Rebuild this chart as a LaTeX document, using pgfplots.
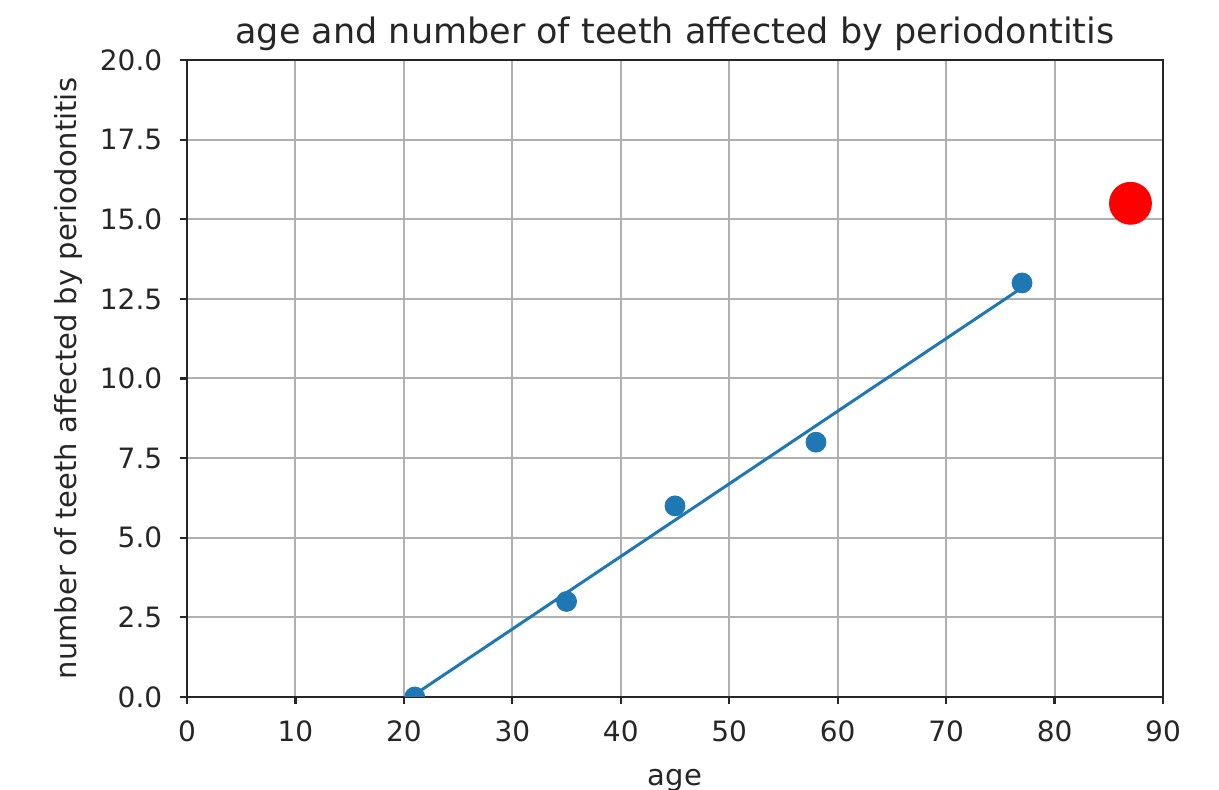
\documentclass[border=0pt]{standalone}
\usepackage{pgfplots}
\pgfplotsset{compat=1.18}
\usepackage{fontspec}
\setmainfont{DejaVu Sans}
\definecolor{mplblue}{HTML}{1F77B4}
\begin{document}
\fontsize{14pt}{17pt}\selectfont
\begin{tikzpicture}
\begin{axis}[
  scale only axis,
  width=488pt, height=318.5pt,
  xmin=0, xmax=90, ymin=0, ymax=20,
  xtick={0,10,...,90},
  ytick={0,2.5,...,20},
  /pgf/number format/assume math mode=true,
  tick label style={font=\fontsize{14pt}{17pt}\selectfont, text=black!85},
  yticklabel style={xshift=-4pt, /pgf/number format/.cd,fixed,fixed zerofill,precision=1},
  xticklabel style={yshift=-3.5pt, /pgf/number format/.cd,fixed,precision=0},
  label style={font=\fontsize{14.5pt}{17pt}\selectfont, text=black!85},
  title style={font=\fontsize{17.5pt}{21pt}\selectfont, text=black!85, yshift=-6.5pt},
  title={age and number of teeth affected by periodontitis},
  xlabel={age},
  ylabel={number of teeth affected by periodontitis},
  grid=major,
  grid style={color=black!31, line width=1pt},
  axis line style={line width=1.2pt, black!85},
  tick style={line width=1.1pt, black!85},
  tick align=outside,
  major tick length=3.5pt,
  xtick pos=bottom, ytick pos=left,
  xlabel style={yshift=-4pt},
  ylabel style={yshift=-1pt},
  clip marker paths=true,
]
\addplot[draw=none, mark=*, mark size=5pt, mark options={fill=mplblue, draw=mplblue}, only marks] coordinates {
  (21,0) (35,3) (45,6) (58,8) (77,13)
};
\addplot[mplblue, line width=1.5pt, no marks] coordinates {
  (21,0.08) (77,12.85)
};
\addplot[only marks, mark=*, mark size=10.5pt, mark options={fill=red, draw=red}] coordinates {
  (87,15.5)
};
\end{axis}
\pgfresetboundingbox
\path ([shift={(-93.5pt,-46.5pt)}]current axis.south west) rectangle ([shift={(28pt,30pt)}]current axis.north east);
\end{tikzpicture}
\end{document}
